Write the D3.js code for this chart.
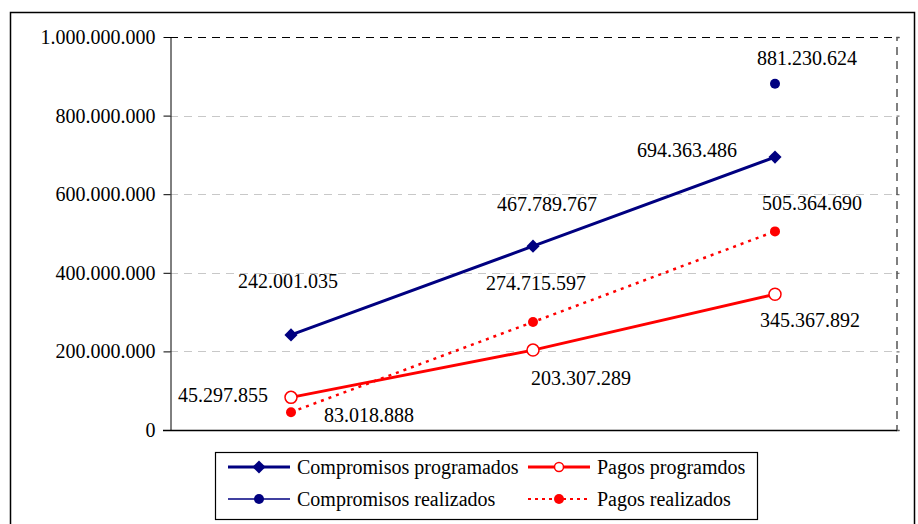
<!DOCTYPE html>
<html>
<head>
<meta charset="utf-8">
<script src="https://cdn.jsdelivr.net/npm/d3@7"></script>
<style>
  body { margin: 0; background: #fff; }
  svg text { font-family: "Liberation Serif", "Times New Roman", serif; }
</style>
</head>
<body>
<div id="chart"></div>
<script>
// Data
var periods = ["Periodo 1", "Periodo 2", "Periodo 3"];
var compromisosProgramados = [242001035, 467789767, 694363486];
var compromisosRealizados = [null, null, 881230624];
var pagosProgramados = [83018888, 203307289, 345367892];
var pagosRealizados = [45297855, 274715597, 505364690];
var yTicks = [0, 200000000, 400000000, 600000000, 800000000, 1000000000];

// Label offsets (dx, dy from the point), as placed in the original chart
var labelOffsets = {
  cp: [[-3, -54], [14, -42], [-88, -7]],
  cr: [null, null, [32, -26]],
  pp: [[78, 18], [48, 28], [35, 26]],
  pr: [[-68, -17], [3, -39], [37, -28]]
};

var width = 918, height = 524;
var margin = { top: 37, right: 22, bottom: 94, left: 170 };
var fontSize = "20px";

var svg = d3.select("#chart")
  .append("svg")
  .attr("width", width)
  .attr("height", height)
  .attr("font-family", "Liberation Serif");

// Outer chart border
svg.append("rect")
  .attr("x", 10.5).attr("y", 12.5)
  .attr("width", 904).attr("height", 530)
  .attr("fill", "none")
  .attr("stroke", "#000")
  .attr("stroke-width", 1.5);

var x = d3.scaleBand()
  .domain(periods)
  .range([margin.left, width - margin.right]);

var y = d3.scaleLinear()
  .domain([0, 1000000000])
  .range([height - margin.bottom, margin.top]);

var fmt = function (v) { return d3.format(",")(v).replace(/,/g, "."); };
var cx = function (i) { return x(periods[i]) + x.bandwidth() / 2; };

// Gridlines
svg.append("g")
  .selectAll("line")
  .data(yTicks.filter(function (d) { return d > 0 && d < 1000000000; }))
  .join("line")
  .attr("x1", margin.left).attr("x2", width - margin.right)
  .attr("y1", function (d) { return Math.round(y(d)) + 0.5; })
  .attr("y2", function (d) { return Math.round(y(d)) + 0.5; })
  .attr("stroke", "#c8c8c8")
  .attr("stroke-dasharray", "8,6");

// Top and right plot border (dashed)
svg.append("line")
  .attr("x1", margin.left).attr("x2", width - margin.right)
  .attr("y1", y(1000000000) + 0.5).attr("y2", y(1000000000) + 0.5)
  .attr("stroke", "#000")
  .attr("stroke-dasharray", "8,6");

svg.append("g")
  .attr("transform", "translate(" + (width - margin.right + 0.5) + ",0)")
  .call(d3.axisRight(y).tickValues(yTicks).tickFormat("").tickSize(3))
  .call(function (g) {
    g.select(".domain").attr("stroke", "#555").attr("stroke-dasharray", "8,6").attr("stroke-width", 1.5);
    g.selectAll(".tick line").attr("stroke", "#555");
  });

// Y axis
svg.append("g")
  .attr("transform", "translate(" + (margin.left + 0.5) + ",0)")
  .call(d3.axisLeft(y).tickValues(yTicks).tickFormat(fmt).tickSize(7).tickSizeOuter(0))
  .call(function (g) {
    g.attr("font-family", null).attr("font-size", null);
    g.selectAll("text")
      .attr("x", -15)
      .style("font-size", fontSize)
      .style("fill", "#000");
  });

// X axis
svg.append("line")
  .attr("x1", margin.left - 7).attr("x2", width - margin.right + 1)
  .attr("y1", y(0) + 0.5).attr("y2", y(0) + 0.5)
  .attr("stroke", "#000")
  .attr("stroke-width", 1.5);

// Lines
var line = d3.line()
  .defined(function (d) { return d != null; })
  .x(function (d, i) { return cx(i); })
  .y(function (d) { return y(d); });

svg.append("path")
  .datum(pagosRealizados)
  .attr("fill", "none")
  .attr("stroke", "#ff0000")
  .attr("stroke-width", 2.5)
  .attr("stroke-dasharray", "3,5")
  .attr("d", line);

svg.append("path")
  .datum(pagosProgramados)
  .attr("fill", "none")
  .attr("stroke", "#ff0000")
  .attr("stroke-width", 3)
  .attr("d", line);

svg.append("path")
  .datum(compromisosProgramados)
  .attr("fill", "none")
  .attr("stroke", "#000080")
  .attr("stroke-width", 3)
  .attr("d", line);

// Markers
var diamond = d3.symbol().type(d3.symbolDiamond2).size(110);

svg.append("g")
  .selectAll("path")
  .data(compromisosProgramados)
  .join("path")
  .attr("transform", function (d, i) { return "translate(" + cx(i) + "," + y(d) + ")"; })
  .attr("d", diamond)
  .attr("fill", "#000080");

svg.append("g")
  .selectAll("circle")
  .data(compromisosRealizados.map(function (d, i) { return { v: d, i: i }; }).filter(function (d) { return d.v != null; }))
  .join("circle")
  .attr("cx", function (d) { return cx(d.i); })
  .attr("cy", function (d) { return y(d.v); })
  .attr("r", 5)
  .attr("fill", "#000080");

svg.append("g")
  .selectAll("circle")
  .data(pagosRealizados)
  .join("circle")
  .attr("cx", function (d, i) { return cx(i); })
  .attr("cy", function (d) { return y(d); })
  .attr("r", 5)
  .attr("fill", "#ff0000");

svg.append("g")
  .selectAll("circle")
  .data(pagosProgramados)
  .join("circle")
  .attr("cx", function (d, i) { return cx(i); })
  .attr("cy", function (d) { return y(d); })
  .attr("r", 6)
  .attr("fill", "#fff")
  .attr("stroke", "#ff0000")
  .attr("stroke-width", 1.5);

// Data labels
function addLabels(values, offsets) {
  var items = values.map(function (d, i) { return { v: d, i: i }; })
    .filter(function (d) { return d.v != null; });
  svg.append("g")
    .selectAll("text")
    .data(items)
    .join("text")
    .attr("x", function (d) { return cx(d.i) + offsets[d.i][0]; })
    .attr("y", function (d) { return y(d.v) + offsets[d.i][1]; })
    .attr("text-anchor", "middle")
    .attr("dy", "0.35em")
    .style("font-size", fontSize)
    .style("fill", "#000")
    .text(function (d) { return fmt(d.v); });
}
addLabels(compromisosProgramados, labelOffsets.cp);
addLabels(compromisosRealizados, labelOffsets.cr);
addLabels(pagosProgramados, labelOffsets.pp);
addLabels(pagosRealizados, labelOffsets.pr);

// Legend
var legendItems = [
  { name: "Compromisos programados", color: "#000080", width: 3, dash: null, marker: "diamond" },
  { name: "Pagos programdos", color: "#ff0000", width: 3, dash: null, marker: "open" },
  { name: "Compromisos realizados", color: "#000080", width: 1.5, dash: null, marker: "dot" },
  { name: "Pagos realizados", color: "#ff0000", width: 2, dash: "3,4", marker: "dot" }
];

var legend = svg.append("g").attr("transform", "translate(215,452)");
legend.append("rect")
  .attr("x", 0.5).attr("y", 0.5)
  .attr("width", 542).attr("height", 67)
  .attr("fill", "#fff")
  .attr("stroke", "#000")
  .attr("stroke-width", 1.2);

var li = legend.selectAll(".item")
  .data(legendItems)
  .join("g")
  .attr("class", "item")
  .attr("transform", function (d, i) {
    return "translate(" + (i % 2 === 0 ? 13 : 313) + "," + (i < 2 ? 15 : 47) + ")";
  });

li.append("line")
  .attr("x1", 0).attr("x2", 62)
  .attr("stroke", function (d) { return d.color; })
  .attr("stroke-width", function (d) { return d.width; })
  .attr("stroke-dasharray", function (d) { return d.dash; });

li.each(function (d) {
  var g = d3.select(this);
  if (d.marker === "diamond") {
    g.append("path").attr("transform", "translate(31,0)").attr("d", diamond).attr("fill", d.color);
  } else if (d.marker === "open") {
    g.append("circle").attr("cx", 31).attr("r", 4.5).attr("fill", "#fff").attr("stroke", d.color).attr("stroke-width", 1.5);
  } else {
    g.append("circle").attr("cx", 31).attr("r", 5).attr("fill", d.color);
  }
});

li.append("text")
  .attr("x", 69)
  .attr("dy", "0.35em")
  .style("font-size", fontSize)
  .style("fill", "#000")
  .text(function (d) { return d.name; });
</script>
</body>
</html>
